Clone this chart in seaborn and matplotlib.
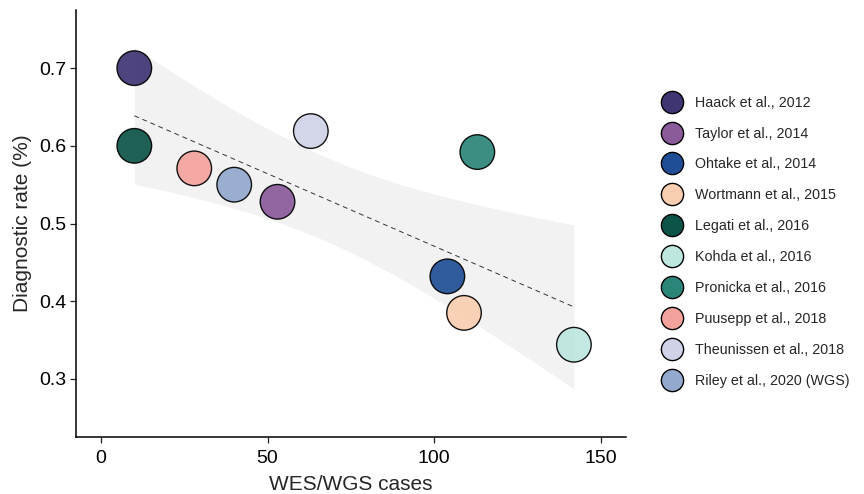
import numpy as np
import pandas as pd
import matplotlib
matplotlib.use("Agg")
import matplotlib.pyplot as plt
import seaborn as sns
from matplotlib.lines import Line2D

studies = ["Haack et al., 2012", "Taylor et al., 2014", "Ohtake et al., 2014",
           "Wortmann et al., 2015", "Legati et al., 2016", "Kohda et al., 2016",
           "Pronicka et al., 2016", "Puusepp et al., 2018", "Theunissen et al., 2018",
           "Riley et al., 2020 (WGS)"]
cases = [10, 53, 104, 109, 10, 142, 113, 28, 63, 40]
rates = [0.70, 0.528, 0.432, 0.385, 0.60, 0.344, 0.592, 0.571, 0.619, 0.55]
colors = ["#3f3573", "#8a5a9a", "#1f4e96", "#f9cdb0", "#0d5448",
          "#bde6df", "#2b8579", "#f4a29c", "#d0d3e8", "#93aace"]

df = pd.DataFrame({"study": studies, "cases": cases, "rate": rates})

sns.set_style("white")
plt.rcParams["font.family"] = ["Liberation Sans", "DejaVu Sans"]

fig = plt.figure(figsize=(8.64, 4.94), dpi=100)
ax = fig.add_axes([0.088, 0.115, 0.636, 0.865])

# least-squares fit with a t-based 95% confidence band
x = np.asarray(cases, dtype=float)
y = np.asarray(rates, dtype=float)
n = len(x)
slope, intercept = np.polyfit(x, y, 1)
resid = y - (intercept + slope * x)
s = np.sqrt(np.sum(resid ** 2) / (n - 2))
sxx = np.sum((x - x.mean()) ** 2)
t_crit = 2.306  # t(0.975, df=8)
grid = np.linspace(x.min(), x.max(), 200)
fit = intercept + slope * grid
half = t_crit * s * np.sqrt(1.0 / n + (grid - x.mean()) ** 2 / sxx)
ax.fill_between(grid, fit - half, fit + half, color="#f2f2f2", linewidth=0, zorder=1)

sns.regplot(data=df, x="cases", y="rate", scatter=False, ci=None,
            color="#333333", line_kws={"linestyle": (0, (5, 4)), "linewidth": 0.7},
            ax=ax)

sns.scatterplot(data=df, x="cases", y="rate", hue="study", palette=colors,
                hue_order=studies, s=620, edgecolor="black", linewidth=1.0,
                alpha=0.92, legend=False, ax=ax, zorder=3)

ax.set_xlim(-7.5, 157.5)
ax.set_ylim(0.225, 0.775)
ax.set_xticks([0, 50, 100, 150])
ax.set_yticks([0.3, 0.4, 0.5, 0.6, 0.7])
ax.set_yticklabels(["0.3", "0.4", "0.5", "0.6", "0.7"])
ax.set_xlabel("WES/WGS cases", fontsize=15, labelpad=6)
ax.set_ylabel("Diagnostic rate (%)", fontsize=15, labelpad=5)
ax.tick_params(axis="both", labelsize=14, length=4, width=0.9, colors="#222222",
               labelcolor="black", direction="out", bottom=True, left=True, pad=3)
ax.tick_params(axis="x", pad=5)
sns.despine(ax=ax)
for side in ["left", "bottom"]:
    ax.spines[side].set_color("black")
    ax.spines[side].set_linewidth(1.1)

handles = [Line2D([], [], marker="o", linestyle="", markersize=16,
                  markerfacecolor=c, markeredgecolor="black", markeredgewidth=1.0)
           for c in colors]
fig.legend(handles, studies, loc="upper left", bbox_to_anchor=(0.755, 0.818),
           frameon=False, fontsize=10.3, labelspacing=1.18, handletextpad=0.6,
           borderaxespad=0)

fig.savefig("out.png", dpi=100)
